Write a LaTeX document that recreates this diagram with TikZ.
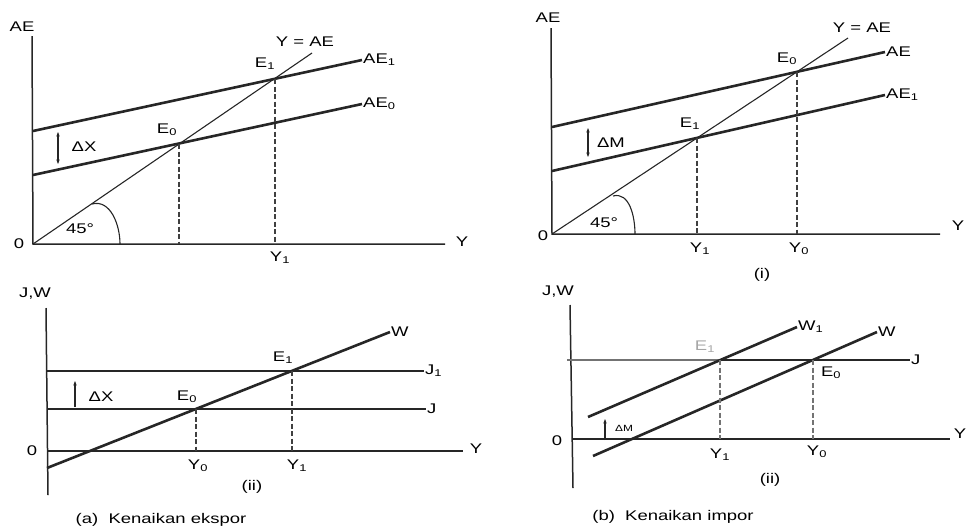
\documentclass[tikz,border=0pt]{standalone}
\usepackage{fontspec}
\setmainfont[FakeStretch=1.32]{Liberation Sans}
\usetikzlibrary{arrows.meta}

\begin{document}
\begin{tikzpicture}[x=1pt,y=-1pt,>={Stealth[length=1.6mm]},
  axis/.style={line width=1.5pt,black!85},
  curve/.style={line width=2.6pt,black!85},
  diag/.style={line width=1.1pt,black!85},
  guide/.style={line width=1.5pt,black!75,dash pattern=on 5pt off 2.5pt},
  lbl/.style={inner sep=1pt,font=\fontsize{14}{16}\selectfont},
  small/.style={inner sep=1pt,font=\fontsize{9}{11}\selectfont}]
  \useasboundingbox (0,0) rectangle (969,531);

  \coordinate (ao) at (33,244);
  \coordinate (atop) at (32,36);
  \coordinate (axend) at (445,244);
  \coordinate (aae1s) at (33,131);
  \coordinate (aae1e) at (362,60);
  \coordinate (aae0s) at (33,175);
  \coordinate (aae0e) at (362,104);
  \coordinate (a45e) at (312,53);
  \coordinate (aE0) at (179,144);
  \coordinate (aE1) at (275,79);
  \coordinate (aarc1) at (92,204);
  \coordinate (aarc2) at (120,244);
  \coordinate (adx1) at (58,132);
  \coordinate (adx2) at (58,164);
  \draw[axis] (atop) -- (ao) -- (axend);
  \draw[curve] (aae1s) -- (aae1e);
  \draw[curve] (aae0s) -- (aae0e);
  \draw[diag] (ao) -- (a45e);
  \draw[guide] (aE0) -- (aE0 |- ao);
  \draw[guide] (aE1) -- (aE1 |- ao);
  \draw[diag] (aarc1) to[out=15,in=90] (aarc2);
  \draw[diag,<->] (adx1) -- (adx2);
  \node[lbl] (aAE) at (22,27) {AE};
  \node[lbl] (aO) at (19,244) {0};
  \node[lbl] (aY) at (462,242) {Y};
  \node[lbl] (aYAE) at (305,42) {Y = AE};
  \node[lbl,anchor=west] (aAE1) at (aae1e) {AE\textsubscript{1}};
  \node[lbl,anchor=west] (aAE0) at (aae0e) {AE\textsubscript{0}};
  \node[lbl] (aE1l) at (265,64) {E\textsubscript{1}};
  \node[lbl] (aE0l) at (167,130) {E\textsubscript{0}};
  \node[lbl] (aY1) at (280,258) {Y\textsubscript{1}};
  \node[lbl] (aDX) at (84,147) {ΔX};
  \node[lbl] (a45) at (80,229) {45°};

  \coordinate (bo) at (552,234);
  \coordinate (btop) at (551,28);
  \coordinate (bxend) at (940,234);
  \coordinate (bae0s) at (552,127);
  \coordinate (bae0e) at (885,52);
  \coordinate (bae1s) at (552,171);
  \coordinate (bae1e) at (885,95);
  \coordinate (b45e) at (848,38);
  \coordinate (bE0) at (797,72);
  \coordinate (bE1) at (697,138);
  \coordinate (barc1) at (613,196);
  \coordinate (barc2) at (635,234);
  \coordinate (bdm1) at (588,128);
  \coordinate (bdm2) at (588,157);
  \draw[axis] (btop) -- (bo) -- (bxend);
  \draw[curve] (bae0s) -- (bae0e);
  \draw[curve] (bae1s) -- (bae1e);
  \draw[diag] (bo) -- (b45e);
  \draw[guide] (bE0) -- (bE0 |- bo);
  \draw[guide] (bE1) -- (bE1 |- bo);
  \draw[diag] (barc1) to[out=15,in=90] (barc2);
  \draw[diag,<->] (bdm1) -- (bdm2);
  \node[lbl] (bAE) at (548,18) {AE};
  \node[lbl] (bO) at (543,236) {0};
  \node[lbl] (bY) at (958,226) {Y};
  \node[lbl] (bYAE) at (862,28) {Y = AE};
  \node[lbl,anchor=west] (bAE) at (bae0e) {AE};
  \node[lbl,anchor=west] (bAE1) at (bae1e) {AE\textsubscript{1}};
  \node[lbl] (bE0l) at (787,59) {E\textsubscript{0}};
  \node[lbl] (bE1l) at (690,124) {E\textsubscript{1}};
  \node[lbl] (bY1) at (700,249) {Y\textsubscript{1}};
  \node[lbl] (bY0) at (799,249) {Y\textsubscript{0}};
  \node[lbl] (bDM) at (611,143) {ΔM};
  \node[lbl] (b45) at (604,223) {45°};
  \node[lbl] (bi) at (762,275) {(i)};

  \coordinate (co) at (47,451);
  \coordinate (ctop) at (46,308);
  \coordinate (cbot) at (48,495);
  \coordinate (cxend) at (463,451);
  \coordinate (cj1s) at (47,371);
  \coordinate (cj1e) at (424,371);
  \coordinate (cjs) at (47,409);
  \coordinate (cje) at (426,409);
  \coordinate (cws) at (47,468);
  \coordinate (cwe) at (390,332);
  \coordinate (cE0) at (196,409);
  \coordinate (cE1) at (292,371);
  \coordinate (cdx1) at (75,407);
  \coordinate (cdx2) at (75,381);
  \draw[axis] (ctop) -- (cbot);
  \draw[axis] (co) -- (cxend);
  \draw[curve] (cj1s) -- (cj1e);
  \draw[curve] (cjs) -- (cje);
  \draw[curve] (cws) -- (cwe);
  \draw[guide] (cE0) -- (cE0 |- co);
  \draw[guide] (cE1) -- (cE1 |- co);
  \draw[diag,->] (cdx1) -- (cdx2);
  \node[lbl] (cJW) at (35,294) {J,W};
  \node[lbl] (cO) at (32,451) {0};
  \node[lbl] (cY) at (476,449) {Y};
  \node[lbl,anchor=west] (cW) at (cwe) {W};
  \node[lbl,anchor=west] (cJ1) at (cj1e) {J\textsubscript{1}};
  \node[lbl,anchor=west] (cJ) at (cje) {J};
  \node[lbl] (cE1l) at (283,358) {E\textsubscript{1}};
  \node[lbl] (cE0l) at (187,397) {E\textsubscript{0}};
  \node[lbl] (cY0) at (198,466) {Y\textsubscript{0}};
  \node[lbl] (cY1) at (297,466) {Y\textsubscript{1}};
  \node[lbl] (cii) at (252,487) {(ii)};
  \node[lbl] (cDX) at (101,397) {ΔX};
  \node[lbl] (ccap) at (161,520) {(a)\ \ Kenaikan ekspor};

  \coordinate (do) at (572,439);
  \coordinate (dtop) at (570,305);
  \coordinate (dbot) at (573,488);
  \coordinate (dxend) at (950,439);
  \coordinate (djs) at (567,360);
  \coordinate (dje) at (910,360);
  \coordinate (dw1s) at (588,417);
  \coordinate (dw1e) at (797,327);
  \coordinate (dws) at (593,456);
  \coordinate (dwe) at (877,332);
  \coordinate (dE1) at (720,360);
  \coordinate (dE0) at (813,360);
  \coordinate (ddm1) at (605,440);
  \coordinate (ddm2) at (605,419);
  \draw[axis] (dtop) -- (dbot);
  \draw[axis] (do) -- (dxend);
  \draw[line width=1.5pt,black!55] (djs) -- (dE1);
  \draw[curve] (dE1) -- (dje);
  \draw[curve] (dw1s) -- (dw1e);
  \draw[curve] (dws) -- (dwe);
  \draw[guide,black!55] (dE0) -- (dE0 |- do);
  \draw[guide,black!55] (dE1) -- (dE1 |- do);
  \draw[diag,->] (ddm1) -- (ddm2);
  \node[lbl] (dJW) at (558,292) {J,W};
  \node[lbl] (dO) at (557,441) {0};
  \node[lbl] (dY) at (960,434) {Y};
  \node[lbl,anchor=west] (dW1) at (dw1e) {W\textsubscript{1}};
  \node[lbl,anchor=west] (dW) at (dwe) {W};
  \node[lbl,anchor=west] (dJ) at (dje) {J};
  \node[lbl,black!35] (dE1l) at (705,347) {E\textsubscript{1}};
  \node[lbl] (dE0l) at (831,373) {E\textsubscript{0}};
  \node[lbl] (dY1) at (720,455) {Y\textsubscript{1}};
  \node[lbl] (dY0) at (817,452) {Y\textsubscript{0}};
  \node[lbl] (dii) at (770,480) {(ii)};
  \node[small] (dDM) at (624,428) {ΔM};
  \node[lbl] (dcap) at (673,517) {(b)\ \ Kenaikan impor};
\end{tikzpicture}
\end{document}
